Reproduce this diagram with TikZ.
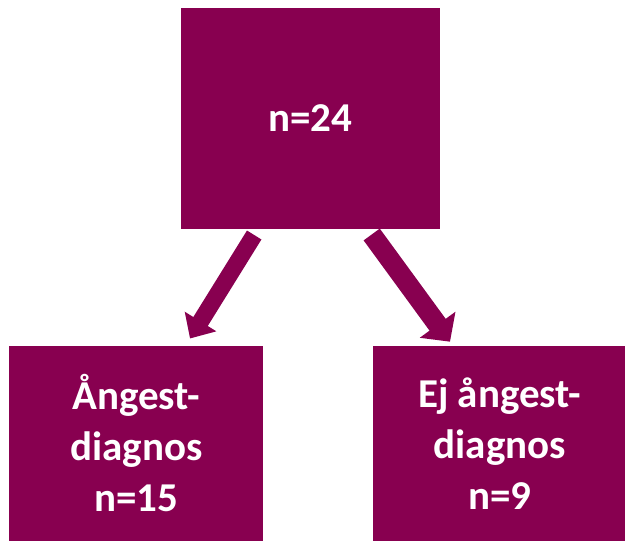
\documentclass[tikz,border=0pt]{standalone}
\usepackage{fontspec}
\setmainfont{Carlito}
\usetikzlibrary{arrows.meta}
\definecolor{plum}{RGB}{136,0,80}
\begin{document}
\begin{tikzpicture}[x=1pt,y=1pt,
  box/.style={fill=plum, draw=none, inner sep=0pt, text=white,
    font=\bfseries\fontsize{41}{51}\selectfont, align=center},
  flow/.style={draw=plum, line cap=butt}]
\useasboundingbox (0,0) rectangle (625,-541);

% total sample
\node[box, minimum width=259pt, minimum height=221pt] (all) at (310.5,-118.5) {n=24};

% the two groups
\node[box, minimum width=254pt, minimum height=195pt] (anx) at (136.3,-443.5)
  {Ångest-\\diagnos\\n=15};
\node[box, minimum width=254pt, minimum height=195pt] (noanx) at (499.8,-443.5)
  {Ej ångest-\\diagnos\\n=9};

% block arrows between the boxes
\coordinate (l0) at (254.2,-235);
\coordinate (l1) at (190,-338.5);
\coordinate (r0) at (371.7,-234.5);
\coordinate (r1) at (450,-341.7);
\draw[flow, line width=17pt, -{Triangle[width=36pt,length=20pt]}] (l0) -- (l1);
\draw[flow, line width=20pt, -{Triangle[width=43pt,length=21pt]}] (r0) -- (r1);
\end{tikzpicture}
\end{document}
